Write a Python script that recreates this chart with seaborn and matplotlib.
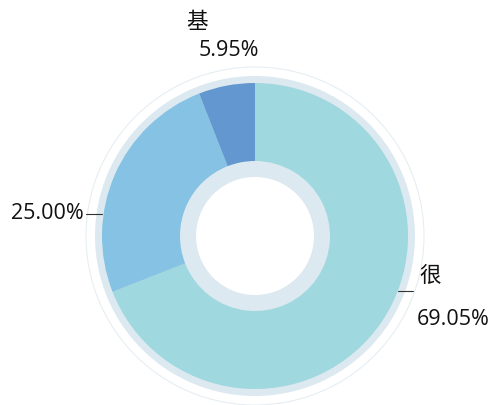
import matplotlib
matplotlib.use("Agg")
import matplotlib.pyplot as plt
import seaborn as sns
from matplotlib.patches import Wedge, Circle

sns.set_theme(style="white")
plt.rcParams["font.family"] = ["Open Sans", "Noto Sans CJK SC", "DejaVu Sans"]

# share of each category, drawn clockwise from 12 o'clock
categories = ["很", "", "基"]
shares = [69.05, 25.00, 5.95]
colors = ["#9fd8de", "#85c2e3", "#6397cf"]

W, H = 491, 406
fig = plt.figure(figsize=(W / 100, H / 100), dpi=100)
ax = fig.add_axes([0, 0, 1, 1])

cx, cy = 255, 406 - 237
r_out, r_in = 153, 75

# pale backing ring behind the slices
ax.add_patch(Wedge((cx, cy), 160, 0, 360, width=160 - 59, facecolor="#dde9f0", edgecolor="none", zorder=1))
ax.add_patch(Circle((cx, cy), 169, facecolor="none", edgecolor="#e6eef3", lw=0.8, zorder=0))

wedges, _ = ax.pie(shares, colors=colors, startangle=90, counterclock=False,
                   center=(cx, cy), radius=r_out,
                   wedgeprops=dict(width=r_out - r_in, edgecolor="none"),
                   frame=True)
for w in wedges:
    w.set_zorder(2)
ax.set_xlim(0, W)
ax.set_ylim(0, H)
ax.set_aspect("equal")
ax.axis("off")

txt = dict(color="#111111", fontsize=15.5)
cjk = ["Noto Sans CJK SC", "DejaVu Sans"]

# top slice
ax.text(197, H - 22, categories[2], ha="center", va="center", family=cjk, **txt)
ax.text(229, H - 51, f"{shares[2]:.2f}%", ha="center", va="center", **txt)

# left slice
ax.text(47, H - 214, f"{shares[1]:.2f}%", ha="center", va="center", **txt)
ax.plot([86, 102], [H - 215, H - 215], color="#333333", lw=0.8, zorder=3)

# right slice
ax.text(430, H - 276, categories[0], ha="center", va="center", family=cjk, **txt)
ax.text(453, H - 320, f"{shares[0]:.2f}%", ha="center", va="center", **txt)
ax.plot([398, 413], [H - 292, H - 292], color="#333333", lw=0.8, zorder=3)

fig.savefig("out.png", dpi=100)
